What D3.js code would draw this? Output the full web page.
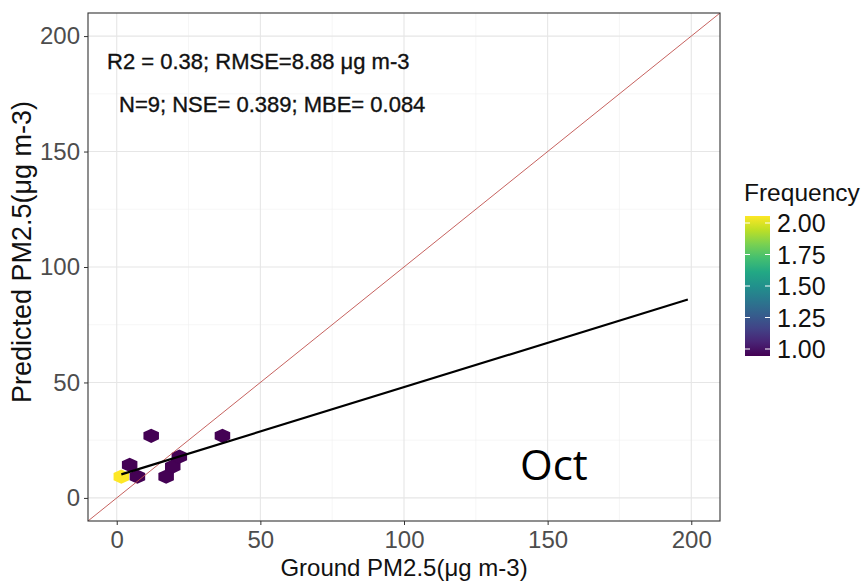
<!DOCTYPE html>
<html><head><meta charset="utf-8">
<script src="https://cdn.jsdelivr.net/npm/d3@7"></script>
<style>body{margin:0;background:#fff}svg{display:block}</style>
</head><body><svg id="c" width="865" height="583"></svg>
<script>
// Data
const hexX = [1.6, 4.5, 7.2, 12.0, 17.2, 19.5, 21.8, 36.8];
const hexY = [9.2, 14.3, 9.2, 26.9, 9.2, 13.6, 17.9, 26.9];
const hexFreq = [2, 1, 1, 1, 1, 1, 1, 1];
const fitX = [1.6, 198.8];
const fitY = [10.2, 85.9];
const xTicks = [0, 50, 100, 150, 200];
const yTicks = [0, 50, 100, 150, 200];
const legendTicks = [1.00, 1.25, 1.50, 1.75, 2.00];
const statLines = ["R2 = 0.38; RMSE=8.88 μg m-3", "N=9; NSE= 0.389; MBE= 0.084"];
const monthLabel = "Oct";

const FONT = "Liberation Sans, Arial, sans-serif";
const svg = d3.select("#c");
const P = {l: 88, r: 720, t: 13, b: 521};
const x = d3.scaleLinear().domain([-10, 210]).range([P.l, P.r]);
const y = d3.scaleLinear().domain([-10, 210]).range([P.b, P.t]);
const color = d3.scaleSequential(d3.interpolateViridis).domain([1, 2]);

// grid
const g = svg.append("g");
const minor = [25, 75, 125, 175];
g.selectAll(".vx").data(minor).join("line").attr("x1", d => x(d)).attr("x2", d => x(d)).attr("y1", P.t).attr("y2", P.b).attr("stroke", "#f0f0f0").attr("stroke-width", 0.6);
g.selectAll(".hy").data(minor).join("line").attr("y1", d => y(d)).attr("y2", d => y(d)).attr("x1", P.l).attr("x2", P.r).attr("stroke", "#f0f0f0").attr("stroke-width", 0.6);
g.selectAll(".vX").data(xTicks).join("line").attr("x1", d => x(d)).attr("x2", d => x(d)).attr("y1", P.t).attr("y2", P.b).attr("stroke", "#e6e6e6").attr("stroke-width", 1.1);
g.selectAll(".hY").data(yTicks).join("line").attr("y1", d => y(d)).attr("y2", d => y(d)).attr("x1", P.l).attr("x2", P.r).attr("stroke", "#e6e6e6").attr("stroke-width", 1.1);

// clip
svg.append("clipPath").attr("id", "clip").append("rect").attr("x", P.l).attr("y", P.t).attr("width", P.r - P.l).attr("height", P.b - P.t);
const pg = svg.append("g").attr("clip-path", "url(#clip)");

// hexes (pointy-top), size in data units
const hw = 2.7, hh = 3.1;
function hexPath(cx, cy) {
  const pts = [[0, hh], [hw, hh / 2], [hw, -hh / 2], [0, -hh], [-hw, -hh / 2], [-hw, hh / 2]];
  return "M" + pts.map(p => [x(cx + p[0]), y(cy + p[1])].join(",")).join("L") + "Z";
}
pg.selectAll(".hex").data(hexX.map((d, i) => ({x: d, y: hexY[i], f: hexFreq[i]})))
  .join("path").attr("d", d => hexPath(d.x, d.y)).attr("fill", d => color(d.f));

// 1:1 line
pg.append("line").attr("x1", x(-10)).attr("y1", y(-10)).attr("x2", x(210)).attr("y2", y(210)).attr("stroke", "#c0504d").attr("stroke-width", 0.9);

// fit line
pg.append("path").datum(fitX.map((d, i) => [d, fitY[i]]))
  .attr("d", d3.line().x(d => x(d[0])).y(d => y(d[1])))
  .attr("fill", "none").attr("stroke", "#000").attr("stroke-width", 2.2);

// panel border
svg.append("rect").attr("x", P.l).attr("y", P.t).attr("width", P.r - P.l).attr("height", P.b - P.t).attr("fill", "none").attr("stroke", "#333").attr("stroke-width", 1.1);

// axes
const xa = svg.append("g").attr("transform", `translate(0,${P.b})`).call(d3.axisBottom(x).tickValues(xTicks).tickSize(4).tickPadding(6));
const ya = svg.append("g").attr("transform", `translate(${P.l},0)`).call(d3.axisLeft(y).tickValues(yTicks).tickSize(4).tickPadding(4));
[xa, ya].forEach(a => {
  a.select(".domain").remove();
  a.selectAll(".tick line").attr("stroke", "#333");
  a.selectAll("text").attr("fill", "#4d4d4d").style("font-family", FONT).style("font-size", "24px");
});

svg.append("text").attr("x", (P.l + P.r) / 2).attr("y", 576).attr("text-anchor", "middle")
  .style("font-family", FONT).style("font-size", "24px").attr("fill", "#111").text("Ground PM2.5(μg m-3)");
svg.append("text").attr("transform", `translate(31,252) rotate(-90)`).attr("text-anchor", "middle")
  .style("font-family", FONT).style("font-size", "27px").attr("fill", "#111").text("Predicted PM2.5(μg m-3)");

// stats
svg.append("text").attr("x", 107).attr("y", 69).style("font-family", FONT).style("font-size", "22px").attr("fill", "#111").attr("stroke", "#111").attr("stroke-width", 0.35).text(statLines[0]);
svg.append("text").attr("x", 119).attr("y", 112).style("font-family", FONT).style("font-size", "22px").attr("fill", "#111").attr("stroke", "#111").attr("stroke-width", 0.35).text(statLines[1]);

// month label
svg.append("text").attr("x", 520).attr("y", 480).style("font-family", "Open Sans, sans-serif").style("font-size", "42px").attr("fill", "#000").text(monthLabel);

// legend
const L = {x: 745, w: 25, t: 216, b: 356};
const ly = d3.scaleLinear().domain([1, 2]).range([349, 223]);
const defs = svg.append("defs");
const grad = defs.append("linearGradient").attr("id", "vg").attr("x1", 0).attr("y1", 1).attr("x2", 0).attr("y2", 0);
d3.range(0, 1.0001, 0.1).forEach(t => grad.append("stop").attr("offset", t).attr("stop-color", d3.interpolateViridis(t)));
svg.append("rect").attr("x", L.x).attr("y", L.t).attr("width", L.w).attr("height", L.b - L.t).attr("fill", "url(#vg)");
const lt = svg.append("g");
legendTicks.forEach(v => {
  lt.append("line").attr("x1", L.x).attr("x2", L.x + 5).attr("y1", ly(v)).attr("y2", ly(v)).attr("stroke", "#fff").attr("stroke-width", 1);
  lt.append("line").attr("x1", L.x + L.w - 5).attr("x2", L.x + L.w).attr("y1", ly(v)).attr("y2", ly(v)).attr("stroke", "#fff").attr("stroke-width", 1);
  lt.append("text").attr("x", 777).attr("y", ly(v)).attr("dy", "0.36em").style("font-family", FONT).style("font-size", "25px").attr("fill", "#111").text(v.toFixed(2));
});
svg.append("text").attr("x", 744).attr("y", 201).style("font-family", FONT).style("font-size", "24.5px").attr("fill", "#111").text("Frequency");
</script></body></html>
